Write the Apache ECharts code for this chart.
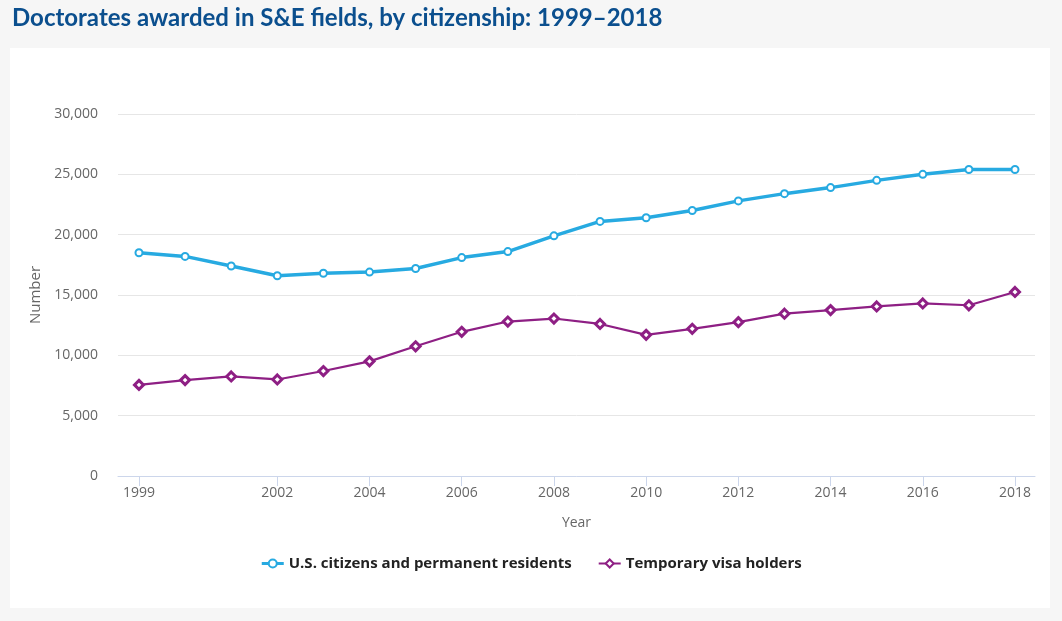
<!DOCTYPE html>
<html>
<head>
<meta charset="utf-8">
<script src="https://cdn.jsdelivr.net/npm/echarts@6/dist/echarts.min.js"></script>
<style>
html,body{margin:0;padding:0;background:#f6f6f6;}
#c{width:1062px;height:621px;}
</style>
</head>
<body>
<div id="c"></div>
<script>
const years = [1999,2000,2001,2002,2003,2004,2005,2006,2007,2008,2009,2010,2011,2012,2013,2014,2015,2016,2017,2018];
const usCitizens = [18500,18200,17400,16600,16800,16900,17200,18100,18600,19900,21100,21400,22000,22800,23400,23900,24500,25000,25400,25400];
const tempVisa = [7550,7950,8250,8000,8700,9500,10750,11950,12800,13050,12600,11700,12200,12750,13450,13750,14050,14300,14150,15250];
const xTickLabels = [1999,2002,2004,2006,2008,2010,2012,2014,2016,2018];
const seriesNames = ['U.S. citizens and permanent residents','Temporary visa holders'];

const chart = echarts.init(document.getElementById('c'), null, {renderer:'canvas'});
const font = '"Open Sans", "Noto Sans", sans-serif';
chart.setOption({
  backgroundColor:'#f6f6f6',
  animation:false,
  title:{
    text:'Doctorates awarded in S&E fields, by citizenship: 1999–2018',
    left:7, top:1,
    textStyle:{color:'#0b4f8e', fontSize:24, fontWeight:'bold', fontFamily:'Lato, "Open Sans", sans-serif'}
  },
  graphic:[{type:'rect', z:-10, shape:{x:10,y:48,width:1040,height:560}, style:{fill:'#ffffff'}}],
  grid:{left:118, right:27, top:114, bottom:145, containLabel:false},
  legend:{
    bottom:45, left:'center', itemGap:26, itemWidth:22, itemHeight:10,
    textStyle:{color:'#222', fontSize:15, fontWeight:'bold', fontFamily:font},
    data:[
      {name:seriesNames[0], itemStyle:{color:'#ffffff', borderColor:'#27aae1', borderWidth:2}, lineStyle:{color:'#27aae1', width:3}},
      {name:seriesNames[1], itemStyle:{color:'#ffffff', borderColor:'#8e1f84', borderWidth:2}, lineStyle:{color:'#8e1f84', width:2}}
    ]
  },
  xAxis:{
    type:'value', min:1998.545, max:2018.434,
    name:'Year', nameLocation:'middle', nameGap:40,
    nameTextStyle:{color:'#666', fontSize:14, fontFamily:font},
    axisLine:{show:true, lineStyle:{color:'#ccd6eb', width:1}},
    axisTick:{show:true, customValues:xTickLabels, length:10, lineStyle:{color:'#ccd6eb'}},
    axisLabel:{customValues:xTickLabels, color:'#666', fontSize:14, fontFamily:font, margin:10,
      formatter:v=>String(v)},
    splitLine:{show:false}
  },
  yAxis:{
    type:'value', min:0, max:30000, interval:5000,
    name:'Number', nameLocation:'middle', nameGap:74, nameRotate:90,
    nameTextStyle:{color:'#666', fontSize:15, fontFamily:font},
    axisLine:{show:false}, axisTick:{show:false},
    axisLabel:{color:'#666', fontSize:14, fontFamily:font, margin:20,
      formatter:v=>v.toLocaleString('en-US')},
    splitLine:{lineStyle:{color:'#e6e6e6', width:1}}
  },
  series:[
    {
      name:seriesNames[0], type:'line',
      data:years.map((y,i)=>[y,usCitizens[i]]),
      lineStyle:{color:'#27aae1', width:3.5},
      itemStyle:{color:'#ffffff', borderColor:'#27aae1', borderWidth:2},
      symbol:'circle', symbolSize:7, showSymbol:true
    },
    {
      name:seriesNames[1], type:'line',
      data:years.map((y,i)=>[y,tempVisa[i]]),
      lineStyle:{color:'#8e1f84', width:2.2},
      itemStyle:{color:'#ffffff', borderColor:'#8e1f84', borderWidth:3},
      symbol:'diamond', symbolSize:9, showSymbol:true
    }
  ]
});
</script>
</body>
</html>
